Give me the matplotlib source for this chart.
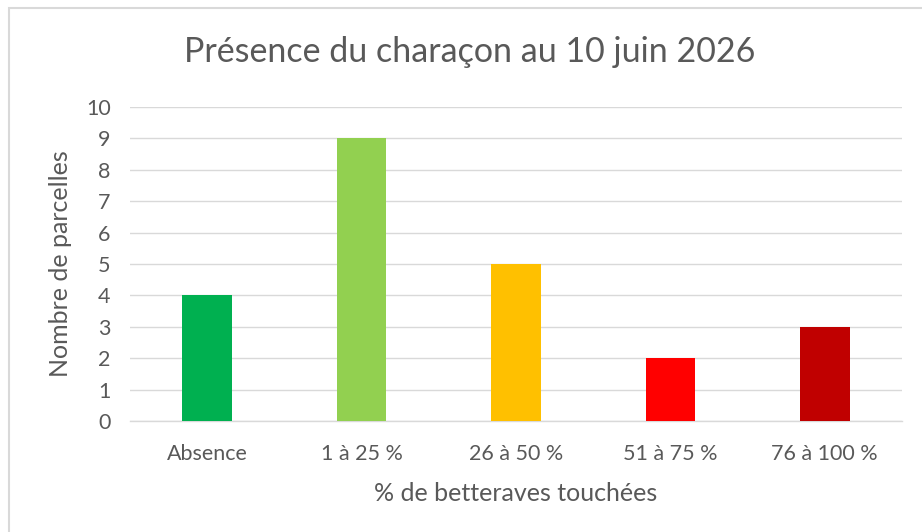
import matplotlib.pyplot as plt
from matplotlib.patches import Rectangle

categories = ['Absence', '1 à 25 %', '26 à 50 %', '51 à 75 %', '76 à 100 %']
values = [4, 9, 5, 2, 3]
colors = ['#00B050', '#92D050', '#FFC000', '#FF0000', '#C00000']
yticks = list(range(0, 11))

plt.rcParams['font.family'] = ['Lato', 'DejaVu Sans']
txt = '#595959'

fig = plt.figure(figsize=(9.22, 5.32), dpi=100)
ax = fig.add_axes([130 / 922, 1 - 421 / 532, 772 / 922, 314 / 532])

x = range(len(categories))
ax.bar(x, values, width=0.32, color=colors, zorder=3)

ax.set_xlim(-0.5, len(categories) - 0.5)
ax.set_ylim(0, 10)
ax.set_yticks(yticks)
ax.set_xticks(list(x))
ax.set_xticklabels(categories)
ax.tick_params(axis='both', length=0, colors=txt, labelsize=15.5)
ax.tick_params(axis='x', pad=16.5)
ax.tick_params(axis='y', pad=14)
ax.yaxis.grid(True, color='#D9D9D9', linewidth=1, zorder=0)
for s in ['top', 'right', 'left']:
    ax.spines[s].set_visible(False)
ax.spines['bottom'].set_color('#D9D9D9')
ax.spines['bottom'].set_linewidth(1)

ax.set_ylabel('Nombre de parcelles', color=txt, fontsize=18, labelpad=10)
ax.set_xlabel('% de betteraves touchées', color=txt, fontsize=18, labelpad=13)
fig.text(470 / 922, 1 - 52 / 532, 'Présence du charaçon au 10 juin 2026',
         ha='center', va='center', fontsize=24.5, color=txt)

fig.patches.append(Rectangle((9 / 922, -10 / 532), 930 / 922, 534 / 532,
                             transform=fig.transFigure, fill=False,
                             edgecolor='#D9D9D9', linewidth=1.5))

fig.savefig('out.png', dpi=100)
